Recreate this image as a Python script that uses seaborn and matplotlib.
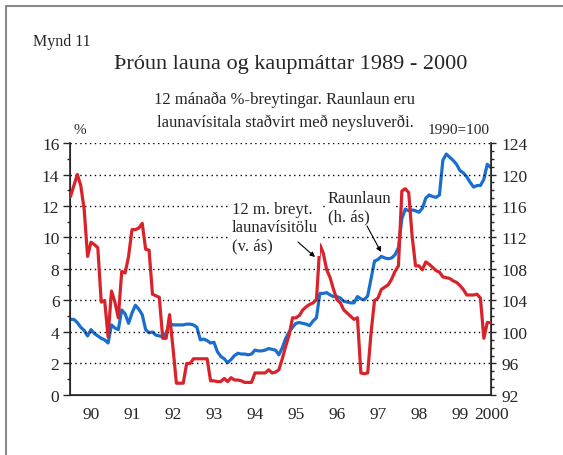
import numpy as np
import pandas as pd
import matplotlib
matplotlib.use("Agg")
import matplotlib.pyplot as plt
import seaborn as sns
from matplotlib.lines import Line2D
from matplotlib.patches import FancyArrowPatch
from matplotlib.ticker import MultipleLocator, FixedLocator

# Monthly values, Jan 1990 - Apr 2000
launavisitala = [
    12.6, 13.3, 14.0, 13.3, 11.8, 8.8, 9.7, 9.55, 9.35, 5.9, 6.0, 3.7,
    6.6, 5.9, 4.9, 7.85, 7.75, 8.8, 10.5, 10.5, 10.6, 10.9, 9.25, 9.2,
    6.4, 6.3, 6.2, 3.6, 3.6, 5.1, 3.0, 0.75, 0.75, 0.75, 2.0, 2.0,
    2.3, 2.3, 2.3, 2.3, 2.3, 0.9, 0.9, 0.85, 0.85, 1.05, 0.85, 1.1,
    0.95, 0.95, 0.9, 0.8, 0.8, 0.8, 1.4, 1.4, 1.4, 1.4, 1.6, 1.4,
    1.45, 1.6, 2.3, 3.1, 3.8, 4.9, 4.9, 5.05, 5.4, 5.6, 5.75, 5.85,
    6.05, 9.55, 9.0, 7.95, 7.45, 6.7, 6.05, 5.85, 5.4, 5.2, 5.0, 4.8,
    4.9, 1.4, 1.35, 1.4, 4.0, 6.0, 6.15, 6.7, 6.85, 7.0, 7.35, 7.85,
    8.2, 12.95, 13.1, 12.85, 10.1, 8.2, 8.2, 7.95, 8.45, 8.3, 8.1, 7.9,
    7.8, 7.5, 7.45, 7.4, 7.25, 7.15, 6.95, 6.7, 6.35, 6.35, 6.35, 6.4,
    6.15, 3.6, 4.6, 4.6,
]
raunlaun = [
    101.6, 101.6, 101.2, 100.6, 100.2, 99.5, 100.3, 99.8, 99.5, 99.2, 99.0, 98.6,
    100.9, 100.5, 100.3, 102.8, 102.3, 101.1, 102.4, 103.4, 102.9, 102.2, 100.3, 99.9,
    100.0, 99.6, 99.5, 99.4, 99.8, 101.1, 100.9, 100.9, 100.9, 100.9, 101.0, 101.0,
    100.9, 100.6, 99.0, 99.1, 98.9, 98.6, 98.7, 97.5, 96.9, 96.6, 96.1, 96.5,
    97.0, 97.3, 97.2, 97.2, 97.1, 97.2, 97.7, 97.6, 97.6, 97.7, 97.9, 97.8,
    97.7, 97.1, 98.0, 99.2, 100.0, 100.6, 101.1, 101.2, 101.1, 101.0, 100.8, 101.4,
    101.8, 104.9, 104.9, 105.0, 104.7, 104.5, 104.5, 104.3, 103.9, 103.8, 103.7, 103.7,
    104.5, 104.2, 104.1, 104.6, 106.8, 109.0, 109.2, 109.6, 109.4, 109.3, 109.4, 109.8,
    110.7, 114.4, 115.6, 115.4, 115.5, 115.4, 115.2, 115.7, 117.0, 117.4, 117.2, 117.1,
    117.4, 121.8, 122.6, 122.2, 121.8, 121.3, 120.5, 120.2, 119.7, 119.0, 118.4, 118.6,
    118.6, 119.4, 121.3, 120.9,
]
year_labels = ["90", "91", "92", "93", "94", "95", "96", "97", "98", "99", "2000"]
year_pos = [1990.5, 1991.5, 1992.5, 1993.5, 1994.5, 1995.5, 1996.5, 1997.5,
            1998.5, 1999.5, 2000.26]

RED = "#d8232a"
BLUE = "#1a6fce"
W, H = 563, 456

sns.set_style("ticks")
plt.rcParams["font.family"] = ["Liberation Serif", "DejaVu Serif"]

df = pd.DataFrame({
    "t": 1990 + np.arange(len(launavisitala)) / 12.0,
    "laun": launavisitala,
    "raun": raunlaun,
})

fig = plt.figure(figsize=(W / 100, H / 100), dpi=100)
ax = fig.add_axes([0.1252, 0.1316, 0.7478, 0.5526])
ax2 = ax.twinx()

sns.lineplot(data=df, x="t", y="raun", ax=ax2, color=BLUE, lw=2.3)
sns.lineplot(data=df, x="t", y="laun", ax=ax, color=RED, lw=2.3, zorder=5)
ax.set_zorder(ax2.get_zorder() + 1)
ax.patch.set_visible(False)

ax.set_xlim(1990, 2000.27)
ax.set_ylim(0, 16)
ax2.set_ylim(92, 124)

for a in (ax, ax2):
    a.set_xlabel("")
    a.set_ylabel("")
    a.spines["top"].set_visible(False)

ax.yaxis.set_major_locator(MultipleLocator(2))
ax.yaxis.set_minor_locator(MultipleLocator(1))
ax2.yaxis.set_major_locator(MultipleLocator(4))
ax2.yaxis.set_minor_locator(MultipleLocator(1))

ax.xaxis.set_major_locator(FixedLocator(year_pos))
ax.set_xticklabels(year_labels)
ax.tick_params(axis="x", length=0, pad=8, labelsize=12.5)
ax.tick_params(axis="y", which="major", length=5, width=1, pad=3, labelsize=12.5)
ax.tick_params(axis="y", which="minor", length=2.5, width=1)
ax2.tick_params(axis="y", which="major", length=3.5, width=1, pad=4, labelsize=12.5)
ax2.tick_params(axis="y", which="minor", length=2, width=1)

for v in range(2, 17, 2):
    ax.axhline(v, color="black", lw=1, ls=(0, (1, 2.5)), zorder=1)

for s in ("left", "bottom"):
    ax.spines[s].set_linewidth(1.2)
ax2.spines["right"].set_linewidth(1.2)


def fx(px):
    return px / W


def fy(py):
    return 1 - py / H


# annotations
bbox = dict(facecolor="white", edgecolor="none", pad=1.5)
fig.text(fx(232), fy(202), "12 m. breyt.\nlaunavísitölu\n(v. ás)",
         fontsize=12, ha="left", va="top", linespacing=1.2, bbox=bbox, zorder=6)
fig.text(fx(328), fy(191), "Raunlaun\n(h. ás)",
         fontsize=12, ha="left", va="top", linespacing=1.2, bbox=bbox, zorder=6)
for (x0, y0), (x1, y1) in [((298, 243), (315, 258)), ((367, 227), (381, 253))]:
    fig.add_artist(FancyArrowPatch((fx(x0), fy(y0)), (fx(x1), fy(y1)),
                                   transform=fig.transFigure, arrowstyle="-|>",
                                   mutation_scale=7, color="black", lw=0.8,
                                   shrinkA=0, shrinkB=0, zorder=10))

# titles and axis captions
fig.text(fx(33), fy(42), "Mynd 11", fontsize=11.5, ha="left", va="center")
fig.text(fx(291), fy(65), "Þróun launa og kaupmáttar 1989 - 2000",
         fontsize=16, ha="center", va="center")
fig.text(fx(285), fy(100), "12 mánaða %-breytingar. Raunlaun eru",
         fontsize=12, ha="center", va="center")
fig.text(fx(285), fy(123), "launavísitala staðvirt með neysluverði.",
         fontsize=12, ha="center", va="center")
fig.text(fx(73), fy(131), "%", fontsize=11, ha="left", va="center")
fig.text(fx(459), fy(131), "1990=100", fontsize=11, ha="center", va="center")

# page frame
fig.add_artist(Line2D([fx(6), fx(6), 1], [0, fy(7), fy(7)],
                      transform=fig.transFigure, color="#8a8a8a", lw=1.5))

fig.savefig("out.png", dpi=100)
